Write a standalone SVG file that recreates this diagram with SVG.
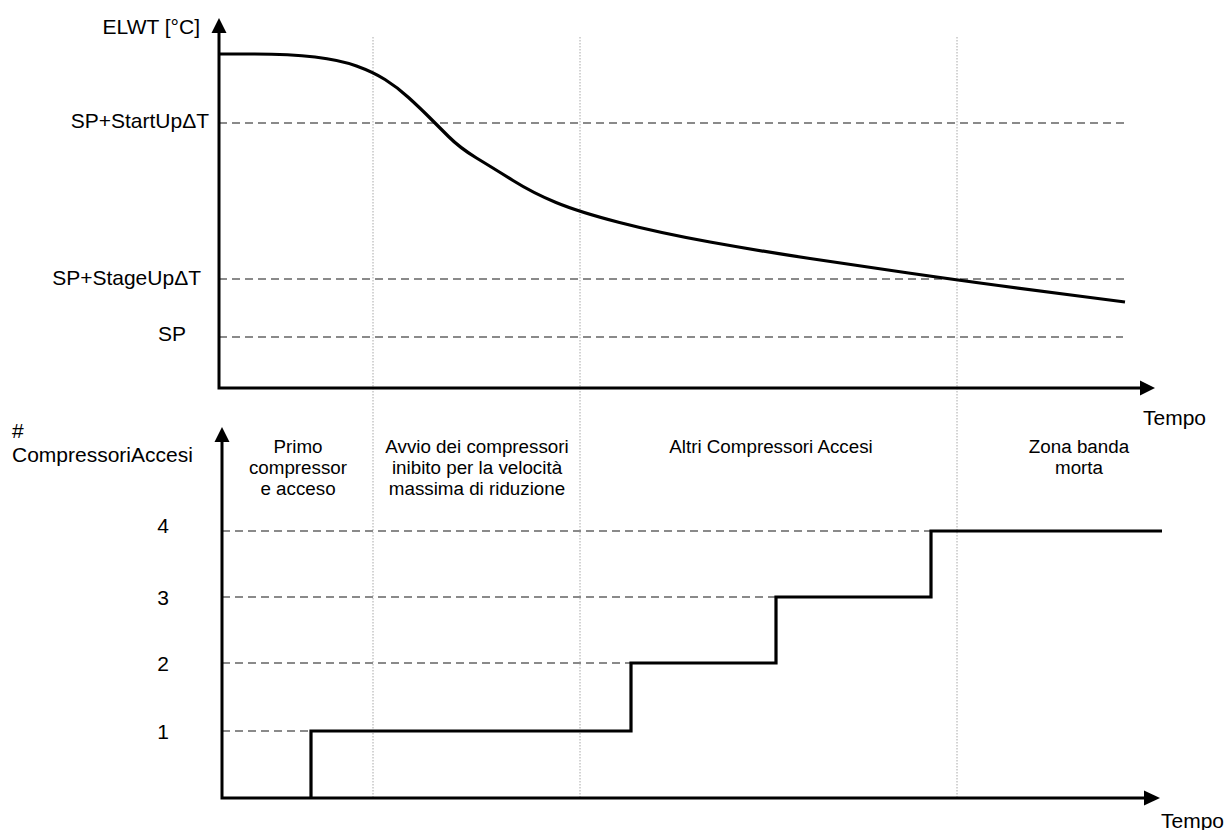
<svg xmlns="http://www.w3.org/2000/svg" width="1225" height="830" viewBox="0 0 1225 830">
  <style>
    .axis { stroke: #000; stroke-width: 3; fill: none; }
    .head { fill: #000; stroke: none; }
    .curve { stroke: #000; stroke-width: 3.2; fill: none; stroke-linejoin: miter; }
    .dash { stroke: #8a8a8a; stroke-width: 1.8; stroke-dasharray: 8 5; fill: none; }
    .dot { stroke: #a8a8a8; stroke-width: 1; stroke-dasharray: 1.5 1.5; fill: none; }
    .lbl { font-family: "Liberation Sans", Arial, sans-serif; font-size: 21px; fill: #000; }
    .zone { font-family: "Liberation Sans", Arial, sans-serif; font-size: 18.8px; fill: #000; text-anchor: middle; }
  </style>
  <rect width="1225" height="830" fill="#fff"/>

  <g id="gridlines">
    <line class="dot" x1="373" y1="37" x2="373" y2="797"/>
    <line class="dot" x1="580" y1="37" x2="580" y2="797"/>
    <line class="dot" x1="957" y1="37" x2="957" y2="797"/>
    <line class="dash" x1="219" y1="123" x2="1125" y2="123"/>
    <line class="dash" x1="219" y1="279" x2="1125" y2="279"/>
    <line class="dash" x1="219" y1="337" x2="1123" y2="337"/>
    <line class="dash" x1="222" y1="531" x2="931" y2="531"/>
    <line class="dash" x1="222" y1="597" x2="776" y2="597"/>
    <line class="dash" x1="222" y1="663" x2="631" y2="663"/>
    <line class="dash" x1="222" y1="731" x2="311" y2="731"/>
  </g>

  <g id="top-chart">
    <path class="axis" d="M219,32 L219,388 L1142,388"/>
    <polygon class="head" points="219,18 211.5,33 226.5,33"/>
    <polygon class="head" points="1155,388 1140,380.5 1140,395.5"/>
    <path class="curve" d="M219,54 L254.5,54 Q290,54 315,57 Q340,60 356.5,66 Q373,72 385,79.5 Q397,87 408.5,97.5 Q420,108 428.5,116.5 Q437,125 448.5,136.5 Q460,148 476.5,158 Q493,168 513,180.5 Q533,193 556,202.5 Q579,212 619.5,222.5 Q660,233 710,242 Q760,251 810,258.5 Q860,266 908.5,273 Q957,280 998.5,285.5 Q1040,291 1082.5,296.5 L1125,302"/>
    <text class="lbl" x="200" y="34" text-anchor="end">ELWT [°C]</text>
    <text class="lbl" x="209" y="128" text-anchor="end">SP+StartUpΔT</text>
    <text class="lbl" x="201" y="285" text-anchor="end">SP+StageUpΔT</text>
    <text class="lbl" x="186" y="341" text-anchor="end">SP</text>
    <text class="lbl" x="1143" y="425">Tempo</text>
  </g>

  <g id="bottom-chart">
    <path class="axis" d="M222,441 L222,798 L1145,798"/>
    <polygon class="head" points="222,427 214.5,442 229.5,442"/>
    <polygon class="head" points="1160,798 1144,790.5 1144,805.5"/>
    <path class="curve" d="M311,798 V731 H631 V663 H776 V597 H931 V531 H1162"/>
    <text class="lbl" x="12" y="438">#</text>
    <text class="lbl" x="12" y="462">CompressoriAccesi</text>
    <text class="lbl" x="163" y="533" text-anchor="middle">4</text>
    <text class="lbl" x="163" y="605" text-anchor="middle">3</text>
    <text class="lbl" x="163" y="671" text-anchor="middle">2</text>
    <text class="lbl" x="163" y="739" text-anchor="middle">1</text>
    <text class="lbl" x="1161" y="828">Tempo</text>
  </g>

  <g id="zone-labels">
    <text class="zone" x="298" y="453">Primo</text>
    <text class="zone" x="298" y="474">compressor</text>
    <text class="zone" x="298" y="495">e acceso</text>
    <text class="zone" x="477" y="453">Avvio dei compressori</text>
    <text class="zone" x="477" y="474">inibito per la velocità</text>
    <text class="zone" x="477" y="495">massima di riduzione</text>
    <text class="zone" x="771" y="453">Altri Compressori Accesi</text>
    <text class="zone" x="1079" y="453">Zona banda</text>
    <text class="zone" x="1079" y="474">morta</text>
  </g>
</svg>
